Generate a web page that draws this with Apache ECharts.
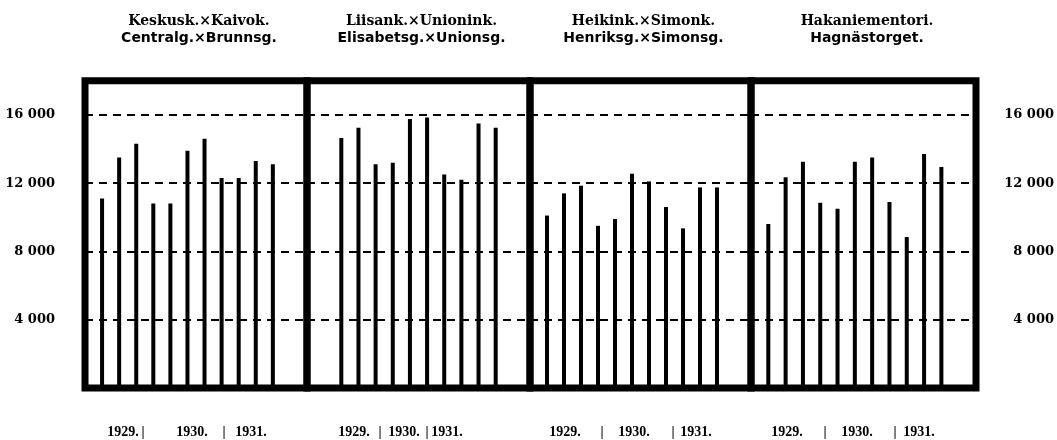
<!DOCTYPE html>
<html>
<head>
<meta charset="utf-8">
<script src="https://cdn.jsdelivr.net/npm/echarts@6/dist/echarts.min.js"></script>
<style>
  html, body { margin: 0; padding: 0; background: #fff; }
  #chart { width: 1057px; height: 440px; }
</style>
</head>
<body>
<div id="chart"></div>
<script>
// ---- data ----
const panelFi = ['Keskusk.×Kaivok.', 'Liisank.×Unionink.', 'Heikink.×Simonk.', 'Hakaniementori.'];
const panelSv = ['Centralg.×Brunnsg.', 'Elisabetsg.×Unionsg.', 'Henriksg.×Simonsg.', 'Hagnästorget.'];
const counts = ['1', '2', '3', '4', '5', '6', '7', '8', '9', '10', '11'];
const years = ['1929.', '1930.', '1931.'];
const keskusKaivo = [11100, 13500, 14300, 10800, 10800, 13900, 14600, 12300, 12300, 13300, 13100];
const liisanUnion = [null, 14650, 15250, 13100, 13200, 15750, 15850, 12500, 12200, 15500, 15250];
const heikinSimon = [10100, 11400, 11850, 9500, 9900, 12550, 12100, 10600, 9350, 11750, 11750];
const hakaniemi = [9600, 12350, 13250, 10850, 10500, 13250, 13500, 10900, 8850, 13700, 12950];
const yMax = 18000;
const yStep = 4000;

// ---- layout ----
const panels = [keskusKaivo, liisanUnion, heikinSimon, hakaniemi];
const edges = [85, 307, 530, 751, 977];
const frameTop = 80.7, frameBottom = 388;
const yearPos = [
  [123, 143, 192, 224, 251],
  [354, 380, 404, 427, 447],
  [565, 602, 634, 673, 696],
  [787, 825, 857, 895, 919]
];
const cats = ['pre', ...counts, 'post1', 'post2'];
const fmt = v => String(v).replace(/\B(?=(\d{3})+$)/g, ' ');
const labelFont = { fontFamily: 'DejaVu Serif', fontWeight: 'bold', fontSize: 13, color: '#000' };

const grid = [], xAxis = [], yAxis = [], series = [];
panels.forEach((vals, i) => {
  grid.push({
    left: edges[i], width: edges[i + 1] - edges[i],
    top: frameTop, height: frameBottom - frameTop,
    show: true, borderColor: '#000', borderWidth: 7, backgroundColor: 'transparent',
    containLabel: false
  });
  xAxis.push({
    type: 'category', gridIndex: i, data: cats, boundaryGap: false,
    axisLine: { show: false }, axisTick: { show: false }, axisLabel: { show: false },
    splitLine: { show: false }
  });
  const y = {
    type: 'value', gridIndex: i, min: 0, max: yMax, interval: yStep,
    axisLine: { show: false }, axisTick: { show: false },
    splitLine: { show: true, lineStyle: { color: '#000', width: 2, type: [8, 6] } },
    axisLabel: { show: false }
  };
  if (i === 0) {
    y.position = 'left';
    y.axisLabel = Object.assign({ show: true, margin: 30, showMinLabel: false, showMaxLabel: false, formatter: fmt }, labelFont);
  }
  if (i === 3) {
    y.position = 'right';
    y.axisLabel = Object.assign({ show: true, margin: 78, align: 'right', showMinLabel: false, showMaxLabel: false, formatter: fmt }, labelFont);
  }
  yAxis.push(y);
  series.push({
    type: 'bar', xAxisIndex: i, yAxisIndex: i, barWidth: 4,
    itemStyle: { color: '#000' },
    data: [null, ...vals, null, null],
    z: 3
  });
});

const graphic = [];
panels.forEach((_, i) => {
  const cx = (edges[i] + edges[i + 1]) / 2 + 3;
  graphic.push({ type: 'text', x: cx, y: 21, style: { text: panelFi[i], textAlign: 'center', textVerticalAlign: 'middle', font: 'bold 14px "DejaVu Serif"', fill: '#000' } });
  graphic.push({ type: 'text', x: cx, y: 38, style: { text: panelSv[i], textAlign: 'center', textVerticalAlign: 'middle', font: 'bold 14px "DejaVu Sans"', fill: '#000' } });
  const p = yearPos[i];
  const items = [years[0], '|', years[1], '|', years[2]];
  items.forEach((t, k) => {
    graphic.push({ type: 'text', x: p[k], y: 432, style: { text: t, textAlign: 'center', textVerticalAlign: 'middle', font: 'bold 14px "Liberation Serif"', fill: '#000' } });
  });
});

const chart = echarts.init(document.getElementById('chart'), null, { renderer: 'canvas' });
chart.setOption({
  animation: false,
  backgroundColor: '#fff',
  grid, xAxis, yAxis, series, graphic
});
</script>
</body>
</html>
